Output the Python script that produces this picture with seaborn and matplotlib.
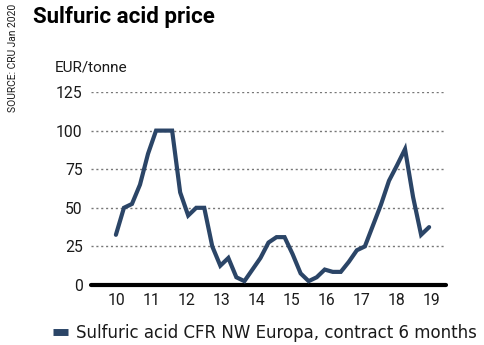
import numpy as np
import pandas as pd
import matplotlib
matplotlib.use("Agg")
import matplotlib.pyplot as plt
import seaborn as sns

# Quarterly contract prices, EUR/tonne
price = [32.5, 50, 52.5, 65, 85, 100, 100, 100, 60, 45,
         50, 50, 25, 12.5, 17.5, 5, 2.5, 10, 17.5, 27.5,
         31, 31, 20, 7.5, 2.5, 5, 10, 8.5, 8.5, 15,
         22.5, 25, 38.5, 52, 67.5, 77.5, 88, 57, 32.5, 37.5]
period = list(range(len(price)))
year_labels = ["10", "11", "12", "13", "14", "15", "16", "17", "18", "19"]
y_ticks = [0, 25, 50, 75, 100, 125]
series_name = "Sulfuric acid CFR NW Europa, contract 6 months"

df = pd.DataFrame({"period": period, "price": price, "series": series_name})

sns.set_theme(style="white")
plt.rcParams["font.family"] = ["Roboto", "DejaVu Sans"]

LINE = "#2b4567"
W, H = 485, 345
fig = plt.figure(figsize=(W / 100, H / 100), dpi=100)
ax = fig.add_axes([91 / W, 1 - 285 / H, (446 - 91) / W, (285 - 92) / H])

sns.lineplot(data=df, x="period", y="price", ax=ax, color=LINE,
             linewidth=3.0, legend=False, solid_joinstyle="miter", zorder=3)

ax.set_xlim(-3.1, 41.1)
ax.set_ylim(0, 125)
ax.set_yticks(y_ticks)
ax.set_yticklabels([str(v) for v in y_ticks])
ax.set_xticks(np.linspace(0.09, 39.3, len(year_labels)))
ax.set_xticklabels(year_labels)
ax.set_xlabel("")
ax.set_ylabel("")

for v in y_ticks[1:]:
    ax.axhline(v, color="#777777", linewidth=1.0, linestyle=(0, (1.5, 2)), zorder=1)
ax.axhline(0, color="black", linewidth=3, zorder=2, clip_on=False)

for s in ax.spines.values():
    s.set_visible(False)
ax.tick_params(axis="both", length=0, labelsize=11.3, colors="#1a1a1a")
ax.tick_params(axis="y", pad=6)
ax.tick_params(axis="x", pad=6)

fig.text(33 / W, 1 - 17 / H, "Sulfuric acid price", fontsize=16,
         fontweight="bold", ha="left", va="center", color="black")
fig.text(55 / W, 1 - 68 / H, "EUR/tonne", fontsize=11, ha="left",
         va="center", color="#1a1a1a")
fig.text(13 / W, 1 - 4 / H, "SOURCE: CRU Jan 2020", fontsize=7.4, rotation=90,
         ha="center", va="top", color="#1a1a1a")

handle = plt.Line2D([], [], color=LINE, linewidth=5, solid_capstyle="butt")
fig.legend([handle], [series_name], loc="center left",
           bbox_to_anchor=(53 / W, 1 - 333 / H), frameon=False,
           prop={"family": ["DejaVu Sans"], "size": 12},
           handlelength=0.9, handletextpad=0.48, borderpad=0,
           borderaxespad=0, labelcolor="#1a1a1a")

fig.savefig("out.png", dpi=100)
